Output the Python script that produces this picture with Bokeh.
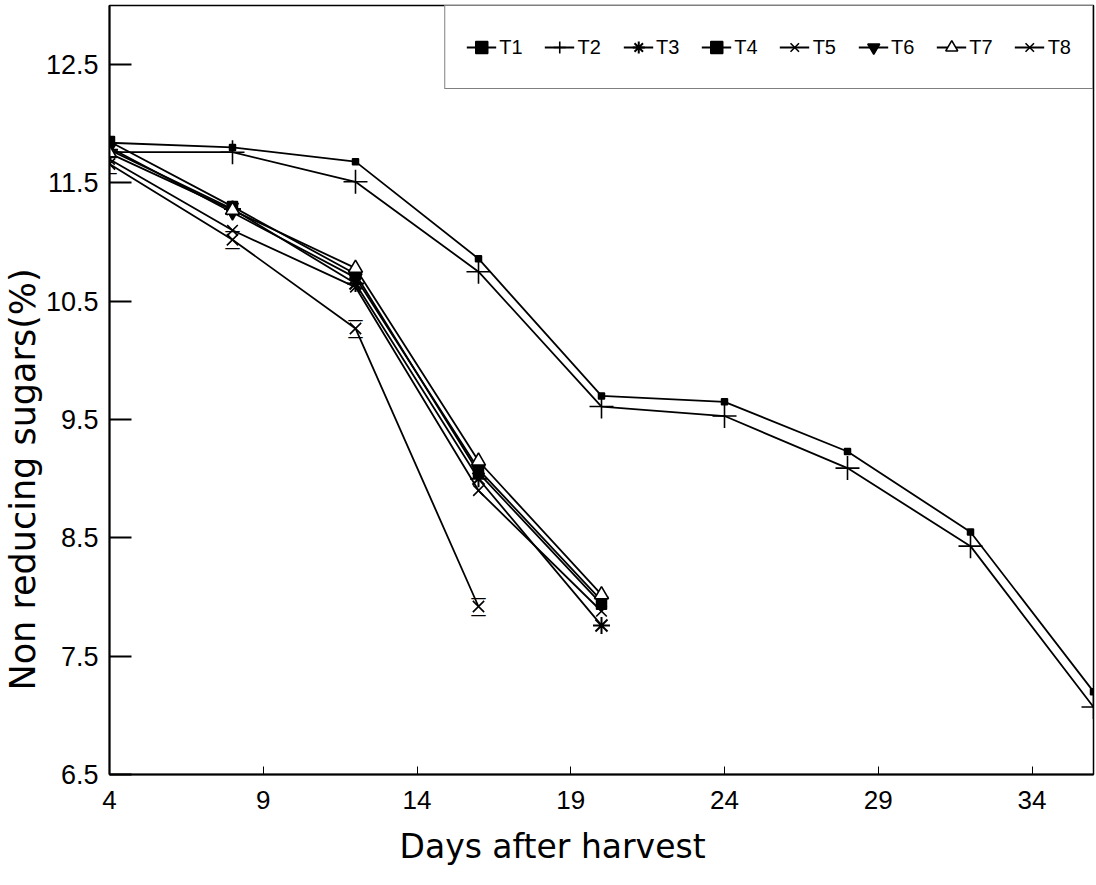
from bokeh.plotting import figure
from bokeh.models import Legend, LegendItem, FixedTicker, Range1d, ColumnDataSource, Title
from bokeh.core.properties import value
from bokeh.embed import file_html
from bokeh.resources import INLINE

# ---- data ----
days_long = [4, 8, 12, 16, 20, 24, 28, 32, 36]
days_short = [4, 8, 12, 16, 20]
days_t8 = [4, 8, 12, 16]

t1 = [11.84, 11.80, 11.68, 10.86, 9.70, 9.65, 9.23, 8.55, 7.20]
t2 = [11.76, 11.76, 11.51, 10.75, 9.61, 9.53, 9.09, 8.43, 7.07]
t3 = [11.78, 11.28, 10.65, 9.00, 7.76]
t4 = [11.85, 11.30, 10.73, 9.05, 7.94]
t5 = [11.70, 11.10, 10.62, 8.90, 7.88]
t6 = [11.80, 11.25, 10.70, 9.08, 7.97]
t7 = [11.75, 11.27, 10.78, 9.15, 8.02]
t8 = [11.66, 11.02, 10.27, 7.92]

series_names = ["T1", "T2", "T3", "T4", "T5", "T6", "T7", "T8"]
x_ticks = [4, 9, 14, 19, 24, 29, 34]
y_ticks = [6.5, 7.5, 8.5, 9.5, 10.5, 11.5, 12.5]
x_title = "Days after harvest"
y_title = "Non reducing sugars(%)"

FONT = "'Liberation Sans', Arial, Helvetica, sans-serif"
TITLE_FONT = "'DejaVu Sans', sans-serif"

p = figure(width=1096, height=885,
           x_range=Range1d(4, 36), y_range=Range1d(6.5, 13.0),
           output_backend="svg", toolbar_location=None,
           min_border_left=108, min_border_right=3,
           min_border_top=5, min_border_bottom=111)

p.xgrid.grid_line_color = None
p.ygrid.grid_line_color = None
p.outline_line_color = "black"
p.outline_line_width = 1.5
p.background_fill_color = "white"

p.xaxis.ticker = FixedTicker(ticks=x_ticks)
p.yaxis.ticker = FixedTicker(ticks=y_ticks)
p.xaxis.minor_tick_line_color = None
p.yaxis.minor_tick_line_color = None

p.yaxis.major_tick_in = 22
p.yaxis.major_tick_out = 0
p.yaxis.major_tick_line_width = 2
p.xaxis.major_tick_in = 8
p.xaxis.major_tick_out = 0
p.xaxis.major_tick_line_width = 1

p.axis.axis_line_width = 2
p.axis.axis_line_color = "black"

p.yaxis.major_label_text_font = FONT
p.yaxis.major_label_text_font_size = "27px"
p.yaxis.major_label_text_color = "black"
p.yaxis.major_label_standoff = 11
p.xaxis.major_label_text_font = FONT
p.xaxis.major_label_text_font_size = "26px"
p.xaxis.major_label_text_color = "black"
p.xaxis.major_label_standoff = 16

# axis titles as Titles so they can be shifted like in the reference
xt = Title(text=x_title, align="left", offset=290, standoff=26,
           text_font=TITLE_FONT, text_font_size="33px", text_font_style="normal",
           text_color="black")
p.add_layout(xt, "below")
yt = Title(text=y_title, align="left", offset=84, standoff=0,
           text_font=TITLE_FONT, text_font_size="35px", text_font_style="normal",
           text_color="black")
p.add_layout(yt, "left")

LW = 1.8
items = []

def add_series(name, xs, ys, marker, size, fill="black", lw=1.5):
    src = ColumnDataSource(dict(x=xs, y=ys))
    ln = p.line("x", "y", source=src, line_color="black", line_width=LW)
    sc = p.scatter("x", "y", source=src, marker=marker, size=size,
                   line_color="black", fill_color=fill, line_width=lw)
    items.append(LegendItem(label=name, renderers=[ln, sc]))
    return src

add_series("T1", days_long, t1, "square", 6)
add_series("T2", days_long, t2, "cross", 24, lw=1.6)
add_series("T3", days_short, t3, "asterisk", 17, lw=2)
add_series("T4", days_short, t4, "square", 10)
add_series("T5", days_short, t5, "x", 15, lw=1.6)
add_series("T6", days_short, t6, "inverted_triangle", 13)
add_series("T7", days_short, t7, "triangle", 14, fill="white", lw=1.6)

# T8: hourglass = diagonal cross plus a bar above and below
src8 = add_series("T8", days_t8, t8, "x", 16, lw=1.6)
for off in (-9, 8):
    p.text("x", "y", source=src8, text=value("\u2014"), text_font=value("DejaVu Sans"),
           text_font_size="16px", text_align="center", text_baseline="middle",
           y_offset=off, text_color="black")

legend = Legend(items=items, orientation="horizontal", location="top_right",
                margin=0, padding=21, spacing=22, glyph_width=30, glyph_height=40,
                label_standoff=3, label_text_font=FONT, label_text_font_size="20px",
                label_text_color="black",
                border_line_color="black", border_line_width=1.5,
                background_fill_color="white", background_fill_alpha=1.0)
p.add_layout(legend, "center")

open("out.html", "w").write(file_html(p, INLINE))
